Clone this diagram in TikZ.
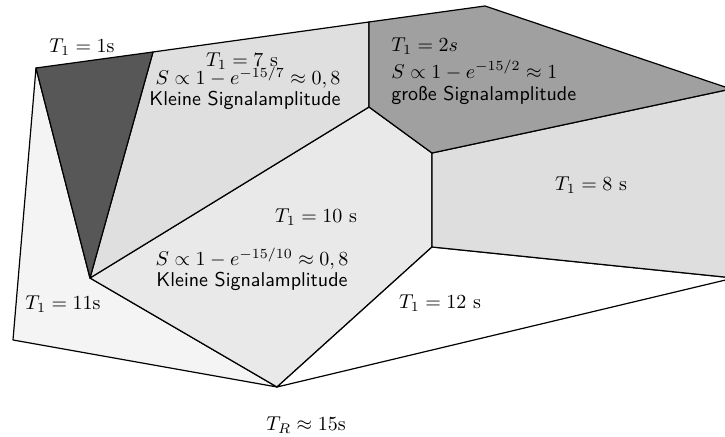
\documentclass[tikz,border=0pt]{standalone}
\usepackage{fontspec}
\definecolor{cdark}{HTML}{575757}
\definecolor{cseven}{HTML}{DFDFDF}
\definecolor{ctwo}{HTML}{A0A0A0}
\definecolor{ceight}{HTML}{DEDEDE}
\definecolor{cten}{HTML}{E9E9E9}
\definecolor{celeven}{HTML}{F4F4F4}
\begin{document}
\begin{tikzpicture}[x=0.5pt,y=-0.5pt,
  region/.style={draw=black, line width=0.6pt, line join=round},
  lbl/.style={inner sep=0pt, align=center},
  lbll/.style={inner sep=0pt, align=left, anchor=west}]
\useasboundingbox (0,0) rectangle (725,437);
\clip (0,0) rectangle (725,437);
% vertices
\coordinate (A) at (36,68);
\coordinate (B) at (153,52);
\coordinate (C) at (90,278);
\coordinate (D) at (369,22);
\coordinate (P) at (485,6);
\coordinate (Q) at (731,89);
\coordinate (G) at (369,107);
\coordinate (H) at (432,153);
\coordinate (I) at (432,247);
\coordinate (R) at (734,278);
\coordinate (E) at (277,387);
\coordinate (F) at (13,340);
% regions
\filldraw[region, fill=celeven] (A) -- (C) -- (E) -- (F) -- cycle;
\filldraw[region, fill=cten] (C) -- (G) -- (H) -- (I) -- (E) -- cycle;
\filldraw[region, fill=white] (I) -- (R) -- (E) -- cycle;
\filldraw[region, fill=ceight] (H) -- (Q) -- (R) -- (I) -- cycle;
\filldraw[region, fill=cseven] (B) -- (D) -- (G) -- (C) -- cycle;
\filldraw[region, fill=ctwo] (D) -- (P) -- (Q) -- (H) -- (G) -- cycle;
\filldraw[region, fill=cdark] (A) -- (B) -- (C) -- cycle;
% labels
\node[lbl] (l1) at (82,47) {$T_1 = 1$s};
\node[lbl] (l7a) at (242,61) {$T_1 = 7$ s};
\node[lbl] (l7b) at (248,78) {$S \propto 1 - e^{-15/7} \approx 0,8$};
\node[lbl] (l7c) at (245,100) {\textsf{Kleine Signalamplitude}};
\node[lbll] (l2a) at (391,46) {$T_1 = 2s$};
\node[lbll] (l2b) at (391,70) {$S \propto 1 - e^{-15/2} \approx 1$};
\node[lbll] (l2c) at (391,95) {\textsf{große Signalamplitude}};
\node[lbl] (l8) at (591,185) {$T_1 = 8$ s};
\node[lbl] (l10a) at (316,217) {$T_1 = 10$ s};
\node[lbl] (l10b) at (252,259) {$S \propto 1 - e^{-15/10} \approx 0,8$};
\node[lbl] (l10c) at (252,281) {\textsf{Kleine Signalamplitude}};
\node[lbl] (l11) at (63,304) {$T_1 = 11$s};
\node[lbl] (l12) at (440,303) {$T_1 = 12$ s};
\node[lbl] (lR) at (306,425) {$T_R \approx 15$s};
\end{tikzpicture}
\end{document}
